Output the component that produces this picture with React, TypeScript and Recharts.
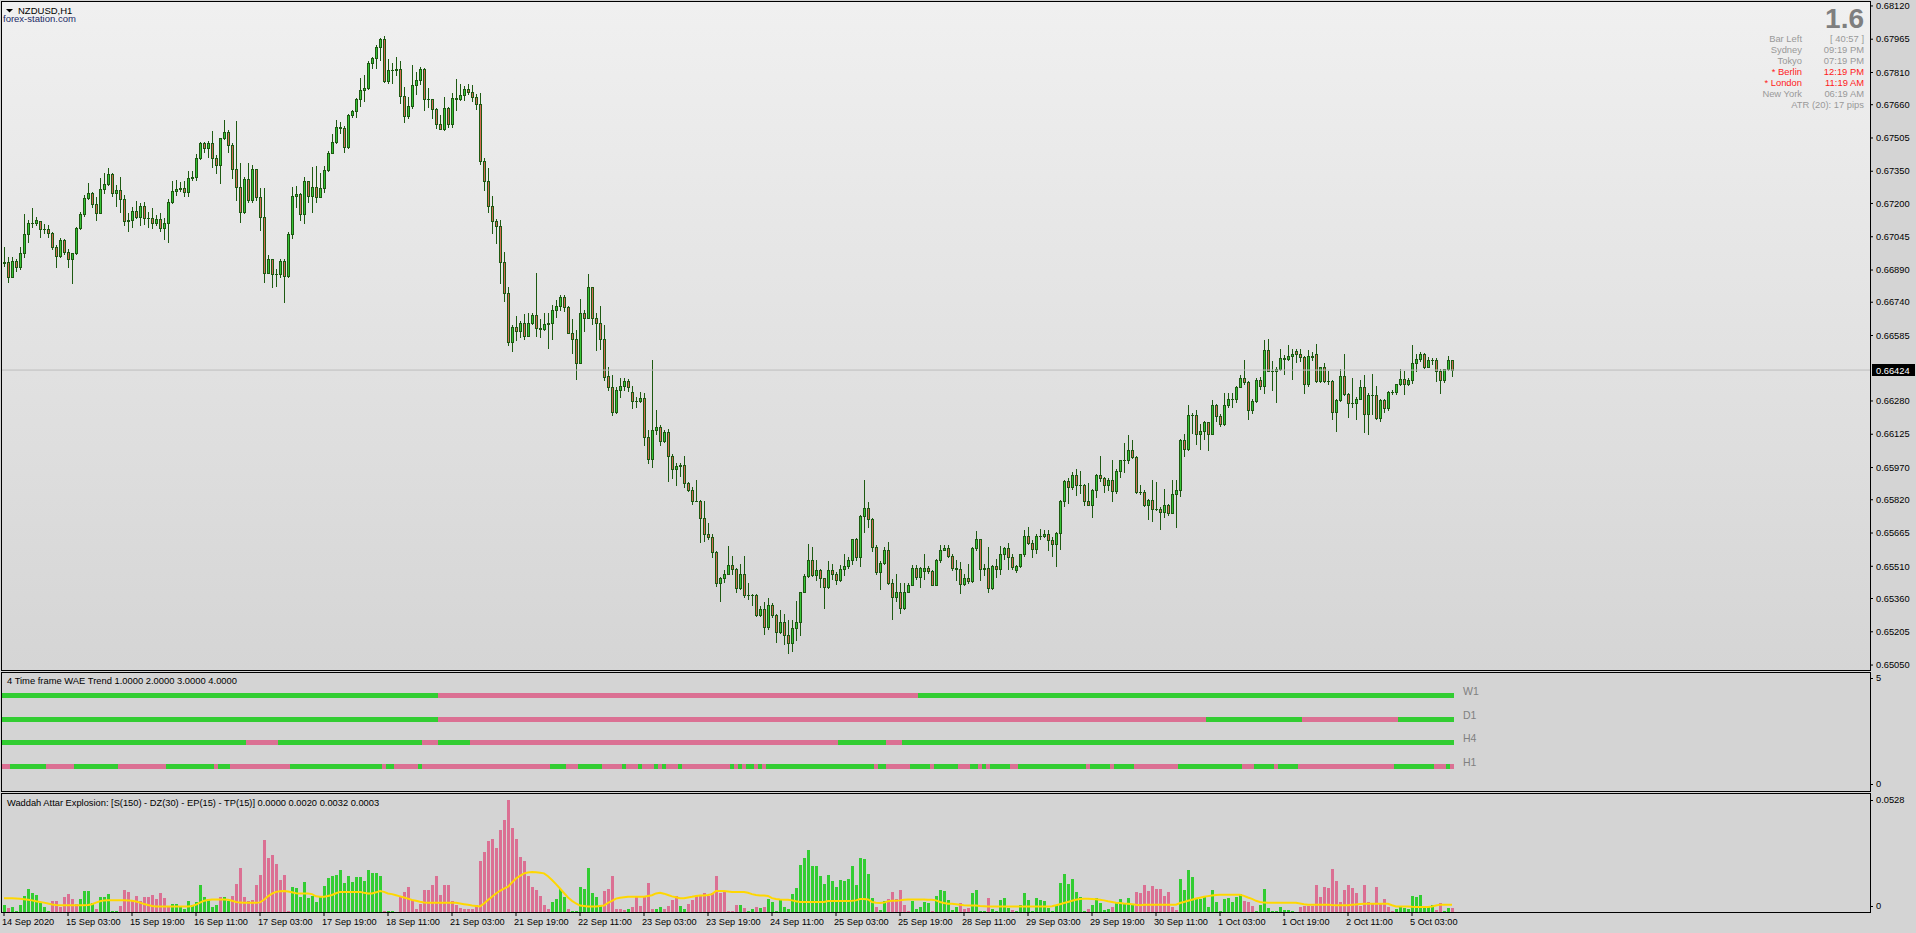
import React from 'react';
import { ComposedChart, Bar, Line, XAxis, YAxis, Cell, ReferenceLine } from 'recharts';

const FONT = "'Liberation Sans', Arial, sans-serif";

// ---------- DATA ----------
const symbolTitle = 'NZDUSD,H1';
const brandText = 'forex-station.com';
const POINT = 0.00001; // prices below are in points (1e-5)

// [open, high, low, close] per H1 bar, in points
const ohlcPoints: number[][] = [
[66921,66999,66910,66929],[66929,66952,66836,66859],[66859,66949,66856,66932],[66932,66941,66887,66906],[66906,66996,66893,66968],[66968,67151,66952,67056],[67056,67123,67022,67108],[67108,67177,67089,67108],
[67108,67139,67101,67123],[67117,67120,67042,67083],[67083,67103,67061,67083],[67083,67100,67045,67061],[67061,67067,66986,66999],[66999,67005,66902,66955],[66955,67038,66949,67030],[67030,67033,66965,66972],
[66972,66986,66902,66943],[66943,66971,66831,66968],[66968,67089,66965,67084],[67084,67162,67080,67149],[67149,67240,67142,67224],[67224,67294,67221,67247],[67247,67255,67185,67196],[67196,67232,67123,67157],
[67157,67317,67154,67266],[67266,67340,67250,67289],[67289,67367,67286,67336],[67336,67340,67235,67250],[67250,67286,67188,67261],[67261,67322,67162,67219],[67219,67240,67100,67120],[67120,67157,67073,67123],
[67123,67185,67092,67166],[67166,67212,67131,67139],[67139,67204,67100,67188],[67188,67208,67104,67134],[67134,67162,67092,67131],[67131,67177,67084,67108],[67108,67146,67100,67126],[67126,67157,67073,67084],
[67084,67131,67034,67108],[67108,67219,67022,67208],[67208,67305,67204,67258],[67258,67309,67240,67266],[67266,67302,67260,67271],[67271,67305,67236,67255],[67255,67351,67236,67317],[67317,67351,67309,67322],
[67322,67429,67309,67410],[67410,67488,67409,67480],[67480,67488,67441,67457],[67457,67493,67418,67480],[67480,67538,67372,67413],[67413,67426,67344,67378],[67378,67507,67294,67504],[67504,67589,67499,67532],
[67532,67542,67438,67471],[67471,67483,67317,67359],[67359,67586,67216,67275],[67275,67387,67115,67159],[67159,67325,67154,67312],[67312,67387,67208,67216],[67216,67379,67208,67359],[67359,67361,67216,67229],
[67229,67271,67076,67135],[67135,67271,66836,66878],[66878,66958,66875,66940],[66940,66943,66809,66871],[66871,66893,66817,66871],[66871,66940,66856,66930],[66930,66940,66742,66864],[66864,67069,66859,67056],
[67056,67278,67038,67235],[67235,67283,67182,67244],[67244,67247,67123,67149],[67149,67325,67108,67303],[67303,67306,67206,67236],[67236,67372,67162,67278],[67278,67376,67208,67229],[67229,67340,67229,67271],
[67271,67376,67255,67356],[67356,67445,67353,67437],[67437,67522,67434,67486],[67486,67589,67480,67555],[67555,67581,67527,67550],[67550,67561,67441,67462],[67462,67615,67460,67612],[67612,67636,67605,67631],
[67631,67690,67605,67685],[67685,67783,67654,67729],[67729,67799,67679,67737],[67737,67864,67732,67853],[67853,67884,67830,67876],[67876,67939,67830,67928],[67928,67970,67869,67965],[67965,67980,67768,67772],
[67772,67872,67760,67822],[67822,67853,67763,67822],[67822,67881,67799,67825],[67825,67864,67667,67702],[67702,67741,67581,67609],[67609,67695,67597,67654],[67654,67845,67643,67752],[67752,67811,67710,67775],
[67775,67834,67757,67827],[67827,67830,67633,67688],[67688,67737,67648,67688],[67688,67688,67600,67639],[67639,67643,67550,67572],[67572,67611,67545,67549],[67549,67695,67542,67643],[67643,67651,67555,67570],
[67570,67713,67555,67690],[67690,67779,67636,67687],[67687,67757,67682,67704],[67704,67747,67682,67732],[67732,67757,67710,67721],[67721,67751,67678,67698],[67698,67710,67640,67662],[67662,67713,67384,67400],
[67400,67410,67263,67306],[67306,67364,67159,67190],[67190,67235,67064,67120],[67120,67126,67017,67097],[67097,67123,66828,66929],[66929,66975,66747,66781],[66781,66812,66540,66556],[66556,66634,66513,66623],
[66623,66676,66564,66607],[66607,66654,66579,66642],[66642,66685,66567,66583],[66583,66688,66583,66645],[66645,66688,66638,66679],[66679,66875,66583,66618],[66618,66660,66579,66617],[66617,66688,66610,66638],
[66638,66691,66525,66642],[66642,66727,66567,66704],[66704,66750,66673,66722],[66722,66774,66704,66763],[66763,66772,66700,66719],[66719,66722,66595,66598],[66598,66660,66502,66567],[66567,66610,66382,66458],
[66458,66753,66455,66691],[66691,66704,66607,66668],[66668,66871,66665,66809],[66809,66812,66638,66668],[66668,66688,66517,66645],[66645,66724,66520,66570],[66570,66634,66377,66393],[66397,66436,66330,66343],
[66343,66400,66214,66229],[66229,66346,66225,66330],[66330,66385,66299,66352],[66352,66385,66330,66372],[66372,66383,66327,66343],[66320,66349,66245,66279],[66279,66299,66250,66279],[66279,66323,66276,66296],
[66296,66315,66074,66110],[66110,66147,65989,66012],[66012,66470,65973,66147],[66147,66240,66128,66158],[66158,66167,66074,66094],[66094,66147,66091,66136],[66136,66150,65908,66024],[66024,66035,65923,65965],
[65965,65992,65889,65979],[65979,65992,65930,65984],[65984,66023,65880,65896],[65896,65903,65861,65867],[65867,65880,65799,65815],[65815,65914,65812,65815],[65815,65818,65624,65737],[65737,65815,65628,65662],
[65662,65712,65636,65647],[65647,65660,65554,65577],[65577,65582,65417,65430],[65430,65461,65349,65456],[65456,65492,65437,65476],[65476,65603,65476,65518],[65518,65557,65476,65498],[65498,65501,65391,65411],
[65411,65520,65406,65476],[65476,65557,65367,65378],[65378,65430,65360,65378],[65378,65383,65328,65374],[65374,65383,65277,65285],[65285,65324,65277,65313],[65313,65344,65196,65228],[65228,65364,65220,65328],
[65328,65339,65274,65282],[65282,65290,65158,65204],[65204,65305,65200,65251],[65251,65290,65150,65189],[65189,65259,65106,65153],[65153,65259,65116,65224],[65224,65349,65165,65251],[65251,65391,65189,65391],
[65391,65476,65391,65464],[65464,65613,65461,65541],[65541,65600,65464,65468],[65468,65538,65445,65492],[65492,65499,65414,65456],[65456,65456,65316,65414],[65414,65534,65411,65492],[65492,65520,65453,65473],
[65473,65484,65426,65445],[65445,65515,65440,65499],[65499,65569,65468,65510],[65510,65554,65504,65541],[65541,65639,65523,65635],[65635,65644,65538,65554],[65554,65748,65510,65746],[65746,65914,65670,65782],
[65782,65808,65694,65732],[65732,65737,65582,65600],[65600,65608,65473,65484],[65484,65535,65406,65527],[65527,65600,65523,65588],[65588,65624,65426,65433],[65433,65453,65266,65367],[65367,65476,65349,65391],
[65391,65433,65293,65316],[65316,65430,65313,65391],[65391,65433,65391,65425],[65425,65515,65421,65504],[65504,65515,65450,65461],[65461,65507,65414,65504],[65490,65565,65453,65504],[65504,65510,65479,65488],
[65488,65495,65421,65425],[65425,65546,65421,65541],[65541,65607,65530,65588],[65588,65608,65585,65597],[65597,65607,65554,65560],[65560,65569,65492,65504],[65504,65541,65448,65499],[65499,65530,65386,65426],
[65426,65476,65421,65456],[65456,65523,65430,65442],[65442,65600,65437,65593],[65593,65673,65585,65635],[65635,65639,65445,65499],[65499,65523,65468,65504],[65504,65600,65391,65411],[65411,65515,65406,65510],
[65510,65546,65460,65499],[65499,65603,65476,65569],[65569,65600,65546,65595],[65595,65619,65499,65554],[65554,65569,65499,65507],[65492,65515,65484,65510],[65510,65569,65507,65566],[65566,65678,65557,65650],
[65650,65693,65613,65619],[65619,65631,65554,65591],[65591,65662,65572,65653],[65653,65686,65639,65653],[65653,65678,65647,65662],[65662,65681,65585,65634],[65634,65647,65557,65616],[65616,65670,65510,65667],
[65667,65818,65592,65813],[65813,65911,65790,65906],[65906,65919,65805,65880],[65880,65948,65872,65937],[65937,65965,65841,65891],[65891,65953,65852,65891],[65891,65892,65794,65813],[65813,65898,65794,65797],
[65797,65872,65740,65867],[65867,65942,65833,65934],[65934,66023,65908,65919],[65919,65927,65856,65891],[65891,65919,65864,65911],[65911,66007,65815,65860],[65860,65962,65852,65953],[65953,66007,65927,66004],
[66004,66082,65950,66004],[66004,66121,65989,66051],[66051,66100,66016,66020],[66020,66023,65852,65856],[65856,65888,65849,65856],[65856,65864,65790,65797],[65797,65825,65732,65821],[65821,65914,65721,65779],
[65779,65903,65771,65779],[65779,65787,65686,65763],[65763,65872,65740,65794],[65794,65799,65748,65759],[65759,65914,65756,65849],[65849,65914,65693,65864],[65864,66105,65836,66097],[66097,66125,66023,66058],
[66058,66260,66054,66214],[66214,66222,66131,66214],[66214,66240,66079,66124],[66124,66172,66058,66141],[66141,66186,66105,66180],[66180,66180,66051,66128],[66128,66284,66125,66260],[66260,66265,66187,66209],
[66209,66218,66163,66175],[66175,66315,66170,66260],[66260,66318,66253,66288],[66288,66318,66250,66291],[66291,66349,66276,66346],[66346,66399,66343,66385],[66385,66470,66357,66369],[66369,66374,66195,66240],
[66240,66287,66225,66281],[66281,66385,66276,66380],[66380,66392,66338,66350],[66350,66563,66318,66517],[66517,66568,66419,66420],[66420,66465,66330,66420],[66420,66436,66276,66427],[66427,66524,66423,66478],
[66478,66493,66405,66476],[66476,66543,66470,66490],[66490,66520,66383,66501],[66512,66524,66462,66498],[66498,66520,66467,66486],[66486,66490,66318,66357],[66357,66517,66350,66490],[66490,66509,66470,66486],
[66501,66545,66369,66374],[66374,66439,66369,66436],[66439,66455,66369,66374],[66374,66419,66358,66374],[66374,66377,66198,66229],[66229,66287,66141,66284],[66284,66427,66281,66395],[66395,66501,66307,66312],
[66312,66318,66206,66271],[66271,66385,66253,66271],[66271,66299,66198,66291],[66291,66380,66287,66343],[66343,66400,66136,66218],[66218,66315,66125,66310],[66310,66408,66218,66310],[66310,66349,66198,66203],
[66203,66287,66187,66284],[66284,66287,66229,66249],[66249,66327,66240,66322],[66322,66330,66312,66322],[66322,66361,66312,66357],[66357,66431,66354,66381],[66381,66420,66312,66357],[66357,66385,66354,66377],
[66377,66540,66364,66459],[66459,66501,66420,66475],[66475,66509,66467,66501],[66501,66504,66434,66439],[66439,66486,66436,66473],[66473,66478,66450,66473],[66473,66478,66374,66420],[66420,66431,66315,66380],
[66380,66431,66369,66427],[66427,66489,66423,66470],[66470,66473,66397,66424]
];

const currentPrice = 0.66424;
const priceTicks = [0.68120,0.67965,0.67810,0.67660,0.67505,0.67350,0.67200,0.67045,0.66890,0.66740,0.66585,0.66280,0.66125,0.65970,0.65820,0.65665,0.65510,0.65360,0.65205,0.65050];
const priceDomain = [0.65027, 0.68143];

// time axis labels, one every 16 H1 bars
const LABEL_STEP = 16;
const xLabels = ['14 Sep 2020','15 Sep 03:00','15 Sep 19:00','16 Sep 11:00','17 Sep 03:00','17 Sep 19:00','18 Sep 11:00','21 Sep 03:00','21 Sep 19:00','22 Sep 11:00','23 Sep 03:00','23 Sep 19:00','24 Sep 11:00','25 Sep 03:00','25 Sep 19:00','28 Sep 11:00','29 Sep 03:00','29 Sep 19:00','30 Sep 11:00','1 Oct 03:00','1 Oct 19:00','2 Oct 11:00','5 Oct 03:00'];

// 4 Time frame WAE Trend: run lengths of trend colour per bar (g = up, p = down)
const w1Runs: [string, number][] = [['g',109],['p',120],['g',134]];
const d1Runs: [string, number][] = [['g',109],['p',192],['g',24],['p',24],['g',14]];
const h4Runs: [string, number][] = [['g',61],['p',8],['g',36],['p',4],['g',8],['p',92],['g',12],['p',4],['g',138]];
const h1Runs: [string, number][] = [['p',2],['g',9],['p',7],['g',11],['p',12],['g',12],['p',1],['g',3],['p',15],['g',23],['p',1],['g',2],['p',6],['g',1],['p',32],['g',4],['p',3],['g',6],['p',5],['g',1],['p',3],['g',1],['p',3],['g',1],['p',1],['g',1],['p',3],['g',1],['p',12],['g',1],['p',1],['g',1],['p',1],['g',2],['p',1],['g',1],['p',1],['g',27],['p',1],['g',2],['p',6],['g',5],['p',1],['g',6],['p',3],['g',2],['p',1],['g',1],['p',1],['g',5],['p',2],['g',17],['p',1],['g',5],['p',1],['g',5],['p',11],['g',16],['p',3],['g',5],['p',1],['g',5],['p',24],['g',10],['p',3],['g',1],['p',1]];
const trendNames = ['W1','D1','H4','H1'];
const trendLevels = [4, 3, 2, 1];
const trendRunSets = [w1Runs, d1Runs, h4Runs, h1Runs];
const trendTitle = '4 Time frame WAE Trend 1.0000 2.0000 3.0000 4.0000';

// Waddah Attar Explosion histogram, in 1e-4 units (positive = up/green, negative = down/red)
const waeE4: number[] = [
32,-18,22,4,32,72,104,87,77,42,22,5,-50,-50,-22,-68,-81,-59,-35,57,95,92,42,-12,68,68,81,5,5,-27,-98,-89,-50,-72,-48,-69,-69,-78,-60,-84,
-63,-22,36,36,27,12,50,30,45,122,68,60,24,32,-65,65,50,-72,-126,-198,-68,-50,-54,-120,-167,-324,-240,-255,-215,-144,-165,-5,113,108,69,135,62,72,45,72,
117,153,162,167,189,129,162,135,158,158,140,189,173,173,162,-5,5,3,2,-65,-90,-114,-54,-15,-35,-99,-99,-120,-162,-78,-120,-120,-50,-30,-20,-15,-12,-15,-32,-230,
-270,-318,-327,-288,-365,-413,-500,-378,-327,-245,-230,-162,-110,-98,-72,-33,-12,45,60,104,65,-12,3,3,114,102,195,86,69,32,-92,-102,-162,-15,-15,-9,12,-24,-71,-27,
-72,-129,-15,12,22,-12,-27,-54,-72,27,15,-35,-54,-72,-72,-83,-72,-84,-162,-87,-95,-5,-3,-32,32,-18,3,14,-22,18,-22,60,45,5,54,22,14,81,108,209,
240,279,204,204,162,126,167,140,113,144,140,149,204,122,243,239,171,63,-22,9,50,-59,-90,-59,-99,-32,-4,48,14,22,45,41,-5,72,99,95,54,9,22,-41,
-14,-18,86,99,3,4,-63,14,5,54,63,18,-9,3,32,86,54,5,63,54,50,18,3,32,131,171,126,149,90,68,3,-14,32,63,41,9,14,-22,41,59,41,63,32,-90,
-86,-122,-95,-117,-104,-104,-72,-90,-22,-9,149,99,189,158,63,59,72,22,99,45,4,59,63,45,68,81,-50,-45,-27,3,32,104,18,4,3,22,9,9,5,2,-22,-27,-27,-27,-122,-68,
-113,-108,-194,-140,-45,-99,-122,-108,-86,-27,-122,-45,-41,-113,-41,-59,-22,-4,14,27,18,14,72,68,77,18,27,32,-9,-41,5,18,-18
];
// dead zone line, 1e-4 units
const deadZoneE4: number[] = [
61,61,61,60,59,57,55,52,48,45,42,38,34,31,30,30,30,30,30,30,30,31,35,42,48,52,53,53,53,53,53,52,50,47,42,36,31,27,25,25,
25,25,25,25,25,25,25,27,33,42,50,54,56,56,56,56,55,50,45,42,41,41,41,41,43,55,70,82,90,93,94,92,88,84,83,83,83,80,70,68,
68,72,76,84,90,90,90,90,90,90,86,83,83,88,94,90,83,80,75,70,65,60,54,50,46,43,41,41,41,41,41,41,41,41,38,35,32,29,27,25,
38,54,68,83,95,105,113,132,150,162,173,177,179,178,176,173,160,143,125,105,85,65,50,38,29,27,25,25,25,27,29,41,50,60,64,66,68,68,68,68,
68,72,75,83,86,82,76,70,66,62,62,65,68,72,74,74,76,80,94,94,94,92,90,90,90,89,86,80,76,74,74,72,62,58,56,55,55,52,48,45,
45,45,45,45,45,45,49,49,49,49,49,49,50,52,58,58,56,45,41,40,42,48,50,50,52,55,56,56,56,56,56,55,55,52,45,40,37,37,35,32,
30,29,29,29,27,26,25,25,25,25,25,25,25,25,25,25,25,25,25,25,25,25,26,30,35,40,45,50,55,58,59,59,58,57,55,52,48,45,41,40,
38,37,35,32,30,32,33,33,33,33,33,33,33,33,40,45,50,55,60,64,68,71,74,76,77,77,77,77,77,77,72,65,59,50,45,42,41,41,41,41,
41,41,41,41,38,35,33,33,33,33,33,33,31,30,30,30,30,32,34,36,37,37,37,37,37,37,37,30,25,25,25,25,23,22,22,22,22,25,29,33,33,33,
33,33
];
const waeTitle = 'Waddah Attar Explosion: [S(150) - DZ(30) - EP(15) - TP(15)] 0.0000 0.0020 0.0032 0.0003';
const waeMax = 0.0528;

// info block
const bigValue = '1.6';
const clockLabels = ['Bar Left','Sydney','Tokyo','* Berlin','* London','New York'];
const clockValues = ['[ 40:57 ]','09:19 PM','07:19 PM','12:19 PM','11:19 AM','06:19 AM'];
const clockActive = [false,false,false,true,true,false];
const atrText = 'ATR (20): 17 pips';

// ---------- STYLE ----------
const GREEN = '#32cd32';
const PINK = '#db7093';
const WICK = '#1e5a12';
const BULL = '#35c335';
const BEAR = '#d26a52';
const CHART_W = 1916;
const AXIS_W = 46;
const PAD_RIGHT = 416;

// ---------- DERIVED TABLES ----------
const expandRuns = (runs: [string, number][]) => runs.flatMap(([c, n]) => Array(n).fill(c));
const trendColors = trendRunSets.map(expandRuns);

const mainData = ohlcPoints.map(([o, h, l, c], i) => ({
  i, o: o * POINT, h: h * POINT, l: l * POINT, c: c * POINT, range: [l * POINT, h * POINT],
}));
const trendData = ohlcPoints.map((_, i) => {
  const row: any = { i };
  trendNames.forEach((n, k) => { row[n] = trendLevels[k]; row['c' + n] = trendColors[k][i]; });
  return row;
});
const waeData = waeE4.map((v, i) => ({ i, v: Math.abs(v) * 1e-4, up: v >= 0, dz: deadZoneE4[i] * 1e-4 }));
const xTicks = xLabels.map((_, k) => k * LABEL_STEP);

// ---------- SHAPES ----------
const Candle = (props: any) => {
  const { x, y, width, height, payload } = props;
  if (!payload) return null;
  const { o, h, l, c } = payload;
  const span = h - l;
  const py = (p: number) => (span > 0 ? y + ((h - p) / span) * height : y);
  const cx = Math.round(x + width / 2);
  const top = Math.round(py(Math.max(o, c)));
  const bot = Math.round(py(Math.min(o, c)));
  const up = c >= o;
  return (
    <g shapeRendering="crispEdges">
      <line x1={cx + 0.5} x2={cx + 0.5} y1={Math.round(y)} y2={Math.round(y + height) + 1} stroke={WICK} strokeWidth={1} />
      {bot - top >= 1 ? (
        <rect x={cx - 0.5} y={top + 0.5} width={2} height={bot - top} fill={up ? BULL : BEAR} stroke={WICK} strokeWidth={1} />
      ) : (
        <line x1={cx - 1} x2={cx + 2} y1={top + 0.5} y2={top + 0.5} stroke={WICK} strokeWidth={1} />
      )}
    </g>
  );
};

const trendShape = (name: string) => (props: any) => {
  const { x, y, width, payload } = props;
  if (!payload) return null;
  return <rect x={x} y={y - 2.5} width={width} height={5} fill={payload['c' + name] === 'g' ? GREEN : PINK} shapeRendering="crispEdges" />;
};

const PriceTick = (props: any) => {
  const { x, y, payload } = props;
  return <text x={x} y={y + 3.2} fontSize={9.3} fontFamily={FONT} fill="#000">{Number(payload.value).toFixed(5)}</text>;
};

const edgeTick = (topValue: number, fmt: (v: number) => string) => (props: any) => {
  const { x, y, payload } = props;
  const yy = Math.round(y + (payload.value === topValue ? 6 : -6));
  return (
    <g>
      <line x1={x - 6} x2={x - 3} y1={yy + 0.5} y2={yy + 0.5} stroke="#000" shapeRendering="crispEdges" />
      <text x={x} y={yy + 3.2} fontSize={9.3} fontFamily={FONT} fill="#000">{fmt(payload.value)}</text>
    </g>
  );
};

const TimeTick = (props: any) => {
  const { x, y, payload } = props;
  const k = Math.round(payload.value / LABEL_STEP);
  return <text x={x - 2} y={y + 7} fontSize={9.2} fontFamily={FONT} fill="#000">{xLabels[k]}</text>;
};

const PriceTag = (props: any) => {
  const vb = props.viewBox || {};
  const x0 = vb.x + vb.width + 2;
  const y0 = Math.round(vb.y);
  return (
    <g>
      <rect x={x0} y={y0 - 6} width={43} height={12} fill="#000" shapeRendering="crispEdges" />
      <text x={x0 + 4} y={y0 + 3.5} fontSize={9.3} fontFamily={FONT} fill="#fff">{currentPrice.toFixed(5)}</text>
    </g>
  );
};

// ---------- APP ----------
export default function App() {
  const abs = (l: number, t: number, w: number, h: number): React.CSSProperties => ({ position: 'absolute', left: l, top: t, width: w, height: h, boxSizing: 'border-box' });
  return (
    <div style={{ position: 'absolute', left: 0, top: 0, width: 1916, height: 933, background: '#d4d4d4', overflow: 'hidden', fontFamily: FONT }}>
      {/* panel backgrounds and frames */}
      <div style={{ ...abs(1, 1, 1870, 670), border: '1px solid #000', background: 'linear-gradient(#f0f0f0, #d5d5d5)' }} />
      <div style={{ ...abs(1, 672, 1870, 120), border: '1px solid #000', background: '#d4d4d4' }} />
      <div style={{ ...abs(1, 793, 1870, 120), border: '1px solid #000', background: '#d4d4d4' }} />

      {/* main price chart */}
      <div style={abs(0, 0, CHART_W, 671)}>
        <ComposedChart width={CHART_W} height={671} data={mainData} margin={{ top: 1, right: 0, bottom: 1, left: 2 }} barCategoryGap={0} barGap={0}>
          <XAxis dataKey="i" type="category" hide padding={{ left: 0, right: PAD_RIGHT }} />
          <YAxis orientation="right" width={AXIS_W} domain={priceDomain} allowDataOverflow ticks={priceTicks} interval={0}
            axisLine={false} tickLine={{ stroke: '#000' }} tickSize={3} tickMargin={3} tick={<PriceTick />} />
          <ReferenceLine y={currentPrice} stroke="#bdbdbd" strokeWidth={1} ifOverflow="visible" label={<PriceTag />} />
          <Bar dataKey="range" shape={<Candle />} isAnimationActive={false} />
        </ComposedChart>
      </div>

      {/* 4 time frame WAE trend */}
      <div style={abs(0, 672, CHART_W, 118)}>
        <ComposedChart width={CHART_W} height={118} data={trendData} margin={{ top: 0, right: 0, bottom: 0, left: 2 }} barCategoryGap={0} barGap={0}>
          {trendNames.map((n) => (
            <XAxis key={n} xAxisId={n} dataKey="i" type="category" hide padding={{ left: 0, right: PAD_RIGHT }} />
          ))}
          <YAxis orientation="right" width={AXIS_W} domain={[0, 5]} ticks={[0, 5]} interval={0} axisLine={false} tickLine={false}
            tickSize={3} tickMargin={3} tick={edgeTick(5, (v) => String(v))} />
          {trendNames.map((n) => (
            <Bar key={n} xAxisId={n} dataKey={n} shape={trendShape(n)} isAnimationActive={false} />
          ))}
        </ComposedChart>
      </div>

      {/* Waddah Attar Explosion */}
      <div style={abs(0, 793, CHART_W, 140)}>
        <ComposedChart width={CHART_W} height={140} data={waeData} margin={{ top: 1, right: 0, bottom: 0, left: 2 }} barCategoryGap={0} barGap={0}>
          <XAxis dataKey="i" type="category" height={21} padding={{ left: 0, right: PAD_RIGHT }} ticks={xTicks} interval={0}
            axisLine={false} tickLine={{ stroke: '#000' }} tickSize={4} tickMargin={2} tick={<TimeTick />} />
          <YAxis orientation="right" width={AXIS_W} domain={[0, waeMax]} allowDataOverflow ticks={[0, waeMax]} interval={0} axisLine={false}
            tickLine={false} tickSize={3} tickMargin={3} tick={edgeTick(waeMax, (v) => (v === 0 ? '0' : v.toFixed(4)))} />
          <Bar dataKey="v" barSize={3} isAnimationActive={false}>
            {waeData.map((d, i) => (
              <Cell key={i} fill={d.up ? GREEN : PINK} shapeRendering="crispEdges" />
            ))}
          </Bar>
          <Line dataKey="dz" type="linear" stroke="#ffd700" strokeWidth={2} dot={false} isAnimationActive={false} />
        </ComposedChart>
      </div>

      {/* text overlay */}
      <svg width={1916} height={933} style={{ position: 'absolute', left: 0, top: 0, pointerEvents: 'none' }}>
        <polygon points="6,9 13,9 9.5,12.5" fill="#000" />
        <text x={18} y={14} fontSize={9.5} fontFamily={FONT} fill="#000">{symbolTitle}</text>
        <text x={3} y={22} fontSize={9.5} fontFamily={FONT} fill="#1b2b66">{brandText}</text>

        <text x={1864} y={28} fontSize={28} fontWeight="bold" fontFamily={FONT} fill="#7f7f7f" textAnchor="end">{bigValue}</text>
        {clockLabels.map((t, k) => (
          <text key={'l' + k} x={1802} y={42 + k * 10.9} fontSize={9.4} fontFamily={FONT} textAnchor="end" fill={clockActive[k] ? '#ff1a1a' : '#999999'}>{t}</text>
        ))}
        {clockValues.map((t, k) => (
          <text key={'v' + k} x={1864} y={42 + k * 10.9} fontSize={9.4} fontFamily={FONT} textAnchor="end" fill={clockActive[k] ? '#ff1a1a' : '#999999'}>{t}</text>
        ))}
        <text x={1864} y={108} fontSize={9.4} fontFamily={FONT} textAnchor="end" fill="#999999">{atrText}</text>

        <text x={7} y={684} fontSize={9.4} fontFamily={FONT} fill="#000">{trendTitle}</text>
        {trendNames.map((n) => (
          <text key={n} x={1463} y={695 + trendNames.indexOf(n) * 23.6} fontSize={10.5} fontFamily={FONT} fill="#808080">{n}</text>
        ))}
        <text x={7} y={806} fontSize={9.3} fontFamily={FONT} fill="#000">{waeTitle}</text>
      </svg>
    </div>
  );
}
